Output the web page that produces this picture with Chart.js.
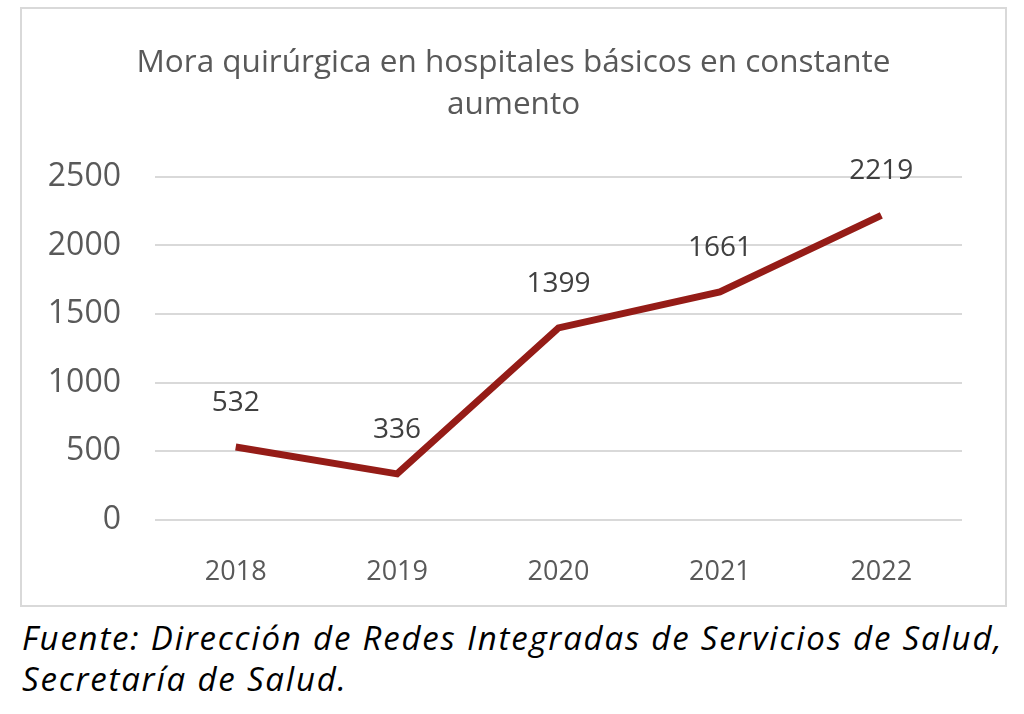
<!DOCTYPE html>
<html>
<head>
<meta charset="utf-8">
<script src="https://cdn.jsdelivr.net/npm/chart.js@4"></script>
<style>
  body { margin: 0; background: #fff; width: 1024px; height: 714px; overflow: hidden; }
  #box {
    position: absolute; left: 20px; top: 7px;
    width: 983px; height: 596px;
    border: 2px solid #d9d9d9;
  }
  #source {
    position: absolute; left: 22px; top: 617px;
    font-family: "Open Sans", sans-serif; font-style: italic;
    font-size: 33px; line-height: 41px; letter-spacing: 1.8px; color: #000;
    white-space: nowrap;
  }
</style>
</head>
<body>
<div id="box"><canvas id="myChart" width="983" height="596"></canvas></div>
<div id="source">Fuente: Dirección de Redes Integradas de Servicios de Salud,<br>Secretaría de Salud.</div>
<script>
const years = ['2018', '2019', '2020', '2021', '2022'];
const backlog = [532, 336, 1399, 1661, 2219];
const yTicks = [0, 500, 1000, 1500, 2000, 2500];

const FONT = '"Open Sans", sans-serif';

// draws the value above each point
const valueLabels = {
  id: 'valueLabels',
  afterDatasetsDraw(chart) {
    const ctx = chart.ctx;
    const meta = chart.getDatasetMeta(0);
    ctx.save();
    ctx.font = '28px ' + FONT;
    ctx.fillStyle = '#404040';
    ctx.textAlign = 'center';
    ctx.textBaseline = 'middle';
    meta.data.forEach((pt, i) => {
      ctx.fillText(String(chart.data.datasets[0].data[i]), pt.x, pt.y - 44);
    });
    ctx.restore();
  }
};

new Chart(document.getElementById('myChart'), {
  type: 'line',
  data: {
    labels: years,
    datasets: [{
      data: backlog,
      borderColor: '#951c17',
      borderWidth: 7,
      pointRadius: 0,
      tension: 0,
      borderJoinStyle: 'miter'
    }]
  },
  options: {
    responsive: false,
    animation: false,
    layout: { padding: 0 },
    plugins: {
      legend: { display: false },
      tooltip: { enabled: false },
      title: {
        display: true,
        text: ['Mora quirúrgica en hospitales básicos en constante', 'aumento'],
        color: '#595959',
        font: { family: FONT, size: 31.5, weight: 'normal', lineHeight: 1.33 },
        padding: { top: 33, bottom: 51 }
      }
    },
    scales: {
      x: {
        offset: true,
        grid: { display: false },
        border: { display: false },
        ticks: { color: '#595959', font: { family: FONT, size: 27 }, padding: 28 },
        afterFit(scale) { scale.height = 85; }
      },
      y: {
        min: 0,
        max: 2500,
        afterBuildTicks(scale) { scale.ticks = yTicks.map(v => ({ value: v })); },
        grid: { color: '#d9d9d9', lineWidth: 2, drawTicks: false },
        border: { display: false },
        ticks: {
          color: '#595959', font: { family: FONT, size: 32 }, padding: 34,
          callback: v => String(v)
        },
        afterFit(scale) { scale.width = 133; }
      },
      // empty right-hand axis, only keeps the right margin
      yRight: {
        position: 'right',
        grid: { display: false },
        border: { display: false },
        ticks: { display: false },
        afterFit(scale) { scale.width = 43; }
      }
    }
  },
  plugins: [valueLabels]
});
</script>
</body>
</html>
